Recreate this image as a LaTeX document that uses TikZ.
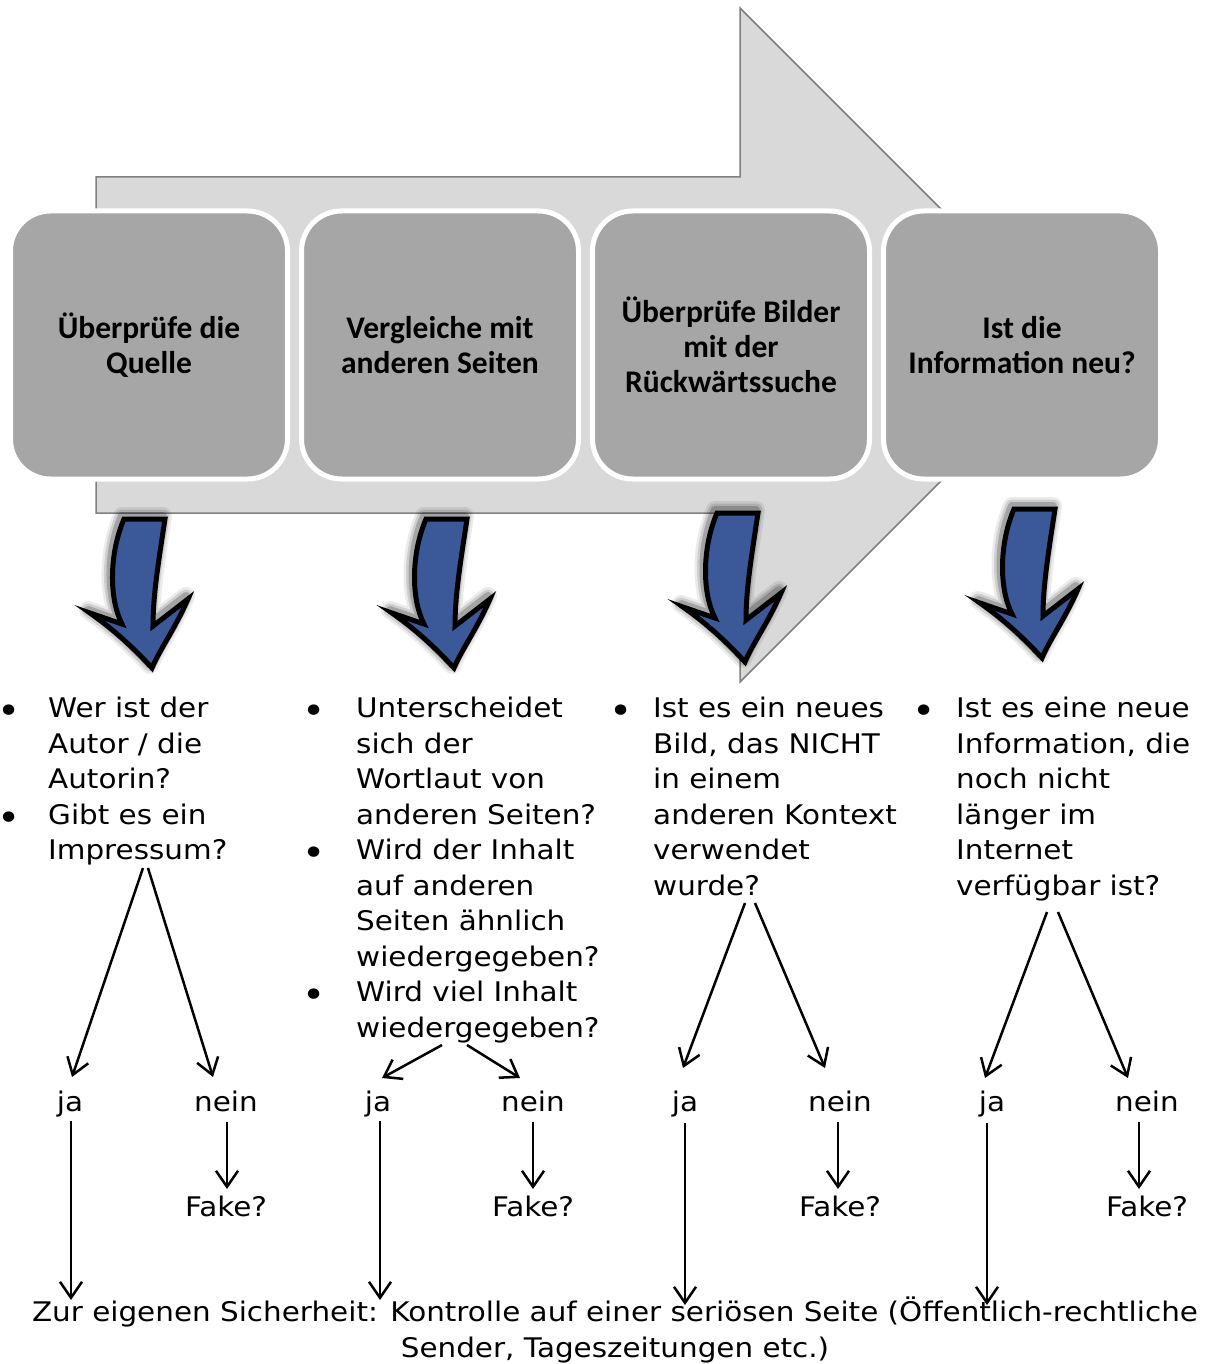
\documentclass[tikz,border=0pt]{standalone}
\usepackage{fontspec}
\usetikzlibrary{arrows.meta}
\newfontfamily\bodyf[FakeStretch=1.09]{DejaVu Sans}
\newfontfamily\boxf{Carlito}
\definecolor{arrowgray}{RGB}{217,217,217}
\definecolor{arrowedge}{RGB}{128,128,128}
\definecolor{boxgray}{RGB}{166,166,166}
\definecolor{blueA}{RGB}{59,89,152}
\begin{document}
\begin{tikzpicture}[x=1pt,y=-1pt,
  stepbox/.style={rounded corners=40pt, fill=boxgray, draw=white, line width=5pt,
    minimum width=277pt, minimum height=268pt, align=center,
    font=\boxf\bfseries\fontsize{31.5}{35}\selectfont, inner sep=0pt},
  body/.style={font=\bodyf\fontsize{27}{35.5}\selectfont, align=left, anchor=base west, inner sep=0pt},
  bul/.style={font=\bodyf\fontsize{36}{35.5}\selectfont, anchor=base, inner sep=0pt},
  lbl/.style={font=\bodyf\fontsize{27}{35.5}\selectfont, anchor=base, inner sep=0pt},
  conn/.style={line width=2.5pt, -{Straight Barb[length=16pt,width=22pt,line width=2.5pt]}},
  bluearrow/.pic={
    \foreach \w/\o in {18/0.08,13/0.12,8/0.2}{
      \draw[line width=\w pt, black, opacity=\o, line join=round, shift={(-2,-3)}]
        (-21,0) -- (20,0) .. controls (14,40) and (8,75) .. (8,107) -- (43,80)
        .. controls (30,110) and (15,130) .. (7,149)
        .. controls (-15,125) and (-35,108) .. (-55,94) -- (-23,105)
        .. controls (-36,80) and (-36,35) .. (-21,0) -- cycle;
    }
    \draw[fill=blueA, draw=black, line width=5pt, line join=miter]
        (-21,0) -- (20,0) .. controls (14,40) and (8,75) .. (8,107) -- (43,80)
        .. controls (30,110) and (15,130) .. (7,149)
        .. controls (-15,125) and (-35,108) .. (-55,94) -- (-23,105)
        .. controls (-36,80) and (-36,35) .. (-21,0) -- cycle;
  }
]
\useasboundingbox (0,0) rectangle (1209,1364);
\fill[white] (0,0) rectangle (1209,1364);

% big background arrow
\draw[fill=arrowgray, draw=arrowedge, line width=1.5pt]
  (96,177) -- (740,177) -- (740,8) -- (1077,345) -- (740,682) -- (740,513) -- (96,513) -- cycle;

% step boxes
\node[stepbox] (b1) at (149,345) {Überprüfe die\\Quelle};
\node[stepbox] (b2) at (440,345) {Vergleiche mit\\anderen Seiten};
\node[stepbox] (b3) at (731,345) {Überprüfe Bilder\\mit der\\Rückwärtssuche};
\node[stepbox] (b4) at (1022,345) {Ist die\\Information neu?};

% blue arrows
\pic at (145,519) {bluearrow};
\pic at (447,519) {bluearrow};
\pic at (738,513) {bluearrow};
\pic at (1035,509) {bluearrow};

% column 1 (node base = baseline of its last line)
\node[bul] (d11) at (9,723.5) {•};
\node[body] (t11) at (48,788.5) {Wer ist der\\Autor / die\\Autorin?};
\node[bul] (d12) at (9,830) {•};
\node[body] (t12) at (48,859.5) {Gibt es ein\\Impressum?};
% column 2
\node[bul] (d21) at (314,723.5) {•};
\node[body] (t21) at (356,824) {Unterscheidet\\sich der\\Wortlaut von\\anderen Seiten?};
\node[bul] (d22) at (314,865.5) {•};
\node[body] (t22) at (356,966) {Wird der Inhalt\\auf anderen\\Seiten ähnlich\\wiedergegeben?};
\node[bul] (d23) at (314,1007.5) {•};
\node[body] (t23) at (356,1037) {Wird viel Inhalt\\wiedergegeben?};
% column 3
\node[bul] (d31) at (621,723.5) {•};
\node[body] (t31) at (653,895) {Ist es ein neues\\Bild, das NICHT\\in einem\\anderen Kontext\\verwendet\\wurde?};
% column 4
\node[bul] (d41) at (924,723.5) {•};
\node[body] (t41) at (956,895) {Ist es eine neue\\Information, die\\noch nicht\\länger im\\Internet\\verfügbar ist?};

% ja / nein / Fake? labels
\node[lbl] (j1) at (70,1111) {ja};
\node[lbl] (n1) at (226,1111) {nein};
\node[lbl] (f1) at (226,1216) {Fake?};
\node[lbl] (j2) at (378,1111) {ja};
\node[lbl] (n2) at (533,1111) {nein};
\node[lbl] (f2) at (533,1216) {Fake?};
\node[lbl] (j3) at (685,1111) {ja};
\node[lbl] (n3) at (840,1111) {nein};
\node[lbl] (f3) at (840,1216) {Fake?};
\node[lbl] (j4) at (992,1111) {ja};
\node[lbl] (n4) at (1147,1111) {nein};
\node[lbl] (f4) at (1147,1216) {Fake?};

% bottom text
\node[font=\bodyf\fontsize{27}{35.5}\selectfont, align=center, anchor=base, inner sep=0pt] (bt)
  at (615,1357) {Zur eigenen Sicherheit: Kontrolle auf einer seriösen Seite (Öffentlich-rechtliche\\Sender, Tageszeitungen etc.)};

% source points of the trees
\coordinate (s1a) at (143,868);
\coordinate (s1b) at (148,868);
\coordinate (s2a) at (442,1045);
\coordinate (s2b) at (467,1045);
\coordinate (s3a) at (745,903);
\coordinate (s3b) at (755,903);
\coordinate (s4a) at (1047,912);
\coordinate (s4b) at (1058,912);
% ends on the bottom text
\coordinate (e1) at (71,1300);
\coordinate (e2) at (380,1300);
\coordinate (e3) at (685,1305);
\coordinate (e4) at (987,1305);

% tree connectors
\draw[conn] (s1a) -- ([shift={(2,-34)}]j1.base);
\draw[conn] (s1b) -- ([shift={(-13,-34)}]n1.base);
\draw[conn] ([shift={(1,11)}]n1.base) -- ([shift={(1,-27)}]f1.base);
\draw[conn] ([shift={(1,10)}]j1.base) -- (e1);

\draw[conn] (s2a) -- ([shift={(4,-33)}]j2.base);
\draw[conn] (s2b) -- ([shift={(-13,-33)}]n2.base);
\draw[conn] ([shift={(0,11)}]n2.base) -- ([shift={(0,-27)}]f2.base);
\draw[conn] ([shift={(2,10)}]j2.base) -- (e2);

\draw[conn] (s3a) -- ([shift={(-2,-43)}]j3.base);
\draw[conn] (s3b) -- ([shift={(-15,-43)}]n3.base);
\draw[conn] ([shift={(-2,11)}]n3.base) -- ([shift={(-2,-27)}]f3.base);
\draw[conn] ([shift={(0,12)}]j3.base) -- (e3);

\draw[conn] (s4a) -- ([shift={(-7,-33)}]j4.base);
\draw[conn] (s4b) -- ([shift={(-19,-33)}]n4.base);
\draw[conn] ([shift={(-8,11)}]n4.base) -- ([shift={(-8,-27)}]f4.base);
\draw[conn] ([shift={(-5,12)}]j4.base) -- (e4);
\end{tikzpicture}
\end{document}
